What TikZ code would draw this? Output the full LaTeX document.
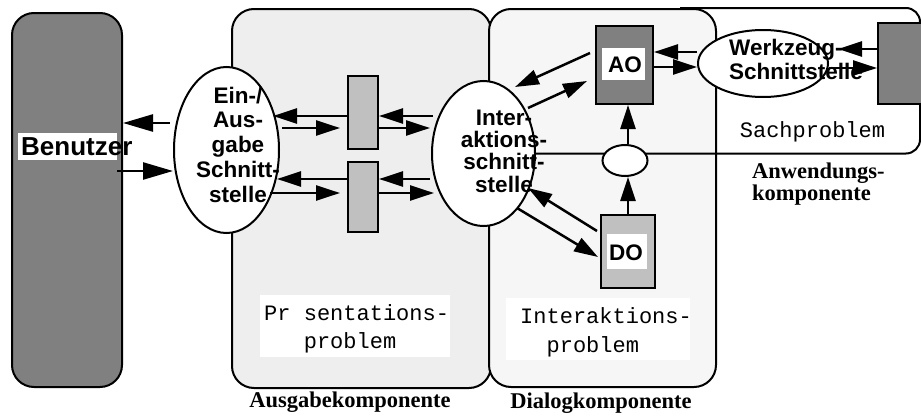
\documentclass[tikz,border=0pt]{standalone}
\usepackage{fontspec}
\setmainfont{Liberation Serif}
\newfontfamily\hv{Liberation Sans}
\newfontfamily\cour{Liberation Mono}
\usetikzlibrary{arrows.meta,shapes.geometric}
\definecolor{gdark}{HTML}{808080}
\definecolor{glight}{HTML}{C0C0C0}
\definecolor{ausg}{HTML}{EEEEEE}
\definecolor{dial}{HTML}{F6F6F6}
\tikzset{
 bx/.style={draw=black, line width=2pt, rounded corners=22pt, anchor=north west, inner sep=0pt},
 rx/.style={draw=black, line width=2pt, anchor=north west, inner sep=0pt},
 el/.style={draw=black, line width=2pt, ellipse, fill=white, inner sep=0pt},
 wbox/.style={fill=white, anchor=north west, inner sep=0pt},
 sans/.style={font=\hv\bfseries\fontsize{22.5}{24.75}\selectfont, inner sep=0pt},
 mono/.style={font=\cour\fontsize{22}{28}\selectfont, inner sep=0pt, align=left},
 serifb/.style={font=\bfseries\fontsize{22.5}{20.5}\selectfont, inner sep=0pt},
 arr/.style={line width=2.5pt, -{Triangle[length=24pt,width=15pt]}},
 bigarr/.style={line width=2.5pt, -{Triangle[length=30pt,width=17pt]}},
}
\begin{document}
\begin{tikzpicture}[x=1pt,y=-1pt]
\useasboundingbox (0,0) rectangle (921,415);
\clip (0,0) rectangle (921,415);
% big boxes
\node[bx, fill=gdark, minimum width=110, minimum height=374] (ben) at (11,12) {};
\node[bx, fill=ausg, minimum width=259, minimum height=379] (aus) at (231,8) {};
\node[bx, fill=dial, minimum width=227, minimum height=378] (dia) at (488,8) {};
% ellipses
\node[el, minimum width=105, minimum height=166] (ea) at (226.5,150) {};
\node[el, minimum width=103, minimum height=145] (ia) at (483.5,153.5) {};
% Sachproblem outline
\draw[line width=2pt, rounded corners=14pt] (ia.east) -- (920,153.5) -- (920,8) -- (680,8);
\node[el, minimum width=130, minimum height=67] (wz) at (763,63.5) {};
\node[el, minimum width=45, minimum height=31] (se) at (625,160.5) {};
% rectangles
\node[rx, fill=glight, minimum width=30, minimum height=73] (r1) at (347,75) {};
\node[rx, fill=glight, minimum width=30, minimum height=70] (r2) at (347,161) {};
\node[rx, fill=gdark, minimum width=57, minimum height=78] (ao) at (595,25) {};
\node[rx, fill=glight, minimum width=54, minimum height=73] (do) at (600,214) {};
\node[rx, fill=gdark, minimum width=60, minimum height=81] (tool) at (877,22) {};
% labels
\node[wbox, minimum width=99, minimum height=27] (benbg) at (18,133) {};
\node[font=\hv\bfseries\fontsize{26}{28}\selectfont, inner sep=0pt, anchor=base west] (bent) at (21,155) {Benutzer};
\node[wbox, minimum width=43, minimum height=32] (aobg) at (602,48) {};
\node[sans, anchor=base] (aot) at (625,72) {AO};
\node[wbox, minimum width=40, minimum height=35] (dobg) at (607,234) {};
\node[sans, anchor=base] (dot) at (626,260) {DO};
\node[wbox, minimum width=190, minimum height=62] (pbg) at (260,295) {};
\node[mono, anchor=base west] (pt) at (264,348) {Pr sentations-\\\hspace*{39.6pt}problem};
\node[wbox, minimum width=184, minimum height=62] (ibg) at (506,298) {};
\node[mono, font=\cour\fontsize{22}{29.5}\selectfont, anchor=base west] (it) at (520,352.5) {Interaktions-\\\hspace*{26.4pt}problem};
\node[mono, anchor=base] (sp) at (812.5,137) {Sachproblem};
\node[sans, align=center, anchor=base] (eat) at (238,202) {Ein-/\\Aus-\\gabe\\Schnitt-\\stelle};
\node[sans, font=\hv\bfseries\fontsize{22.5}{22.3}\selectfont, align=center, anchor=base] (iat) at (504,192) {Inter-\\aktions-\\schnitt-\\stelle};
\node[sans, font=\hv\bfseries\fontsize{22.5}{24}\selectfont, align=left, anchor=base west] (wzt) at (729,79) {Werkzeug-\\Schnittstelle};
\node[serifb, anchor=base] (ausl) at (350,407) {Ausgabekomponente};
\node[serifb, anchor=base] (dial) at (601,408) {Dialogkomponente};
\node[serifb, align=left, anchor=base west] (anwl) at (752,200) {Anwendungs-\\komponente};
% arrows Benutzer
\draw[bigarr] (170,123) -- (ben.east |- 0,123);
\draw[bigarr] (117,171) -- (173,171);
% arrows around r1
\draw[arr] (r1.west |- 0,116) -- (273,116);
\draw[arr] (282,128) -- (340,128);
\draw[arr] (433,116) -- (r1.east |- 0,116);
\draw[arr] (r1.east |- 0,128) -- (430,128);
% arrows around r2
\draw[arr] (r2.west |- 0,179) -- (277,179);
\draw[arr] (270,193) -- (340,193);
\draw[arr] (430,179) -- (r2.east |- 0,179);
\draw[arr] (r2.east |- 0,193) -- (434,193);
% AO / DO with interaction ellipse
\draw[arr] (590,53) -- (515,87);
\draw[arr] (528,108) -- (587,81);
\draw[arr] (597,231) -- (528,188);
\draw[arr] (517,208) -- (598,257);
% vertical
\draw[arr] (do.north |- se.north) -- (do.north |- ao.south);
\draw[arr] (do.north) -- (do.north |- se.south);
% Werkzeug
\draw[arr] (wz.west |- 0,52) -- (ao.east |- 0,52);
\draw[arr] (ao.east |- 0,67) -- (wz.west |- 0,67);
\draw[arr] (tool.west |- 0,49) -- (838,49);
\draw[arr] (wz.east |- 0,68) -- (tool.west |- 0,68);
\end{tikzpicture}
\end{document}
